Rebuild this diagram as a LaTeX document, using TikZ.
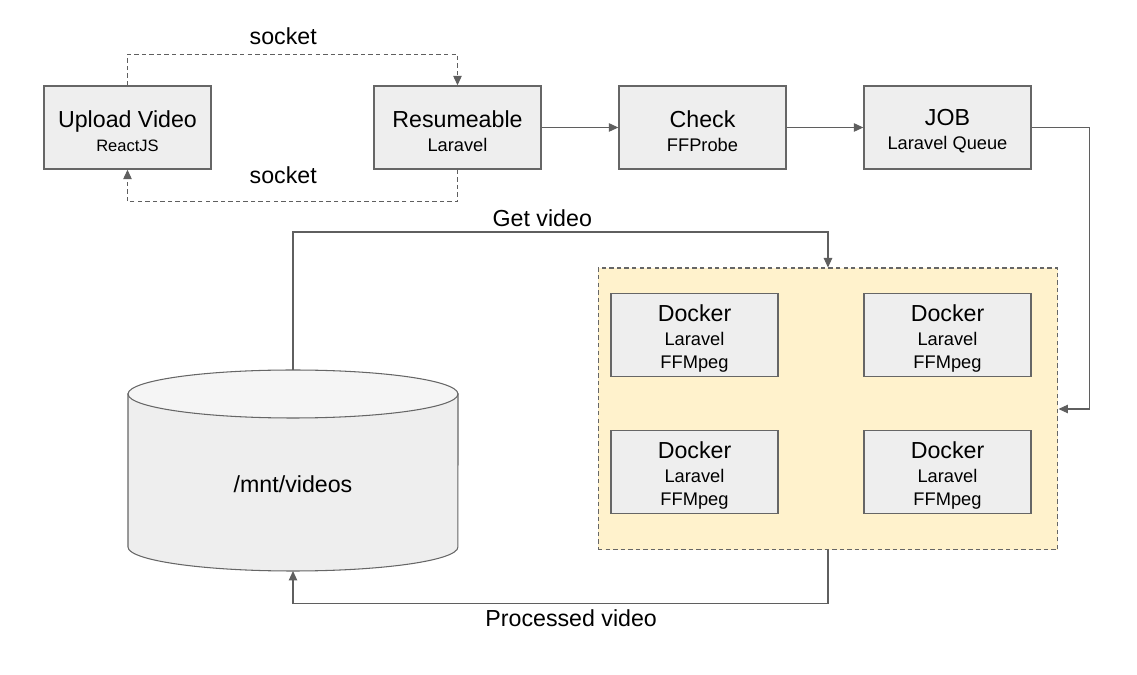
\documentclass[tikz,border=0pt]{standalone}
\usepackage{fontspec}
\setmainfont{Liberation Sans}
\usetikzlibrary{arrows.meta,calc}
\definecolor{boxfill}{HTML}{EEEEEE}
\definecolor{boxline}{HTML}{666666}
\definecolor{wire}{HTML}{5F5F5F}
\definecolor{farmfill}{HTML}{FFF2CC}
\newcommand{\mainsz}{\fontsize{13.2}{16}\selectfont}
\newcommand{\subsz}{\fontsize{10.4}{13.6}\selectfont}
\newcommand{\head}[1]{{\mainsz\rule{0pt}{13.6pt}#1}}
\tikzset{
  stage/.style={draw=boxline,fill=boxfill,line width=0.8pt,minimum width=3.34cm,
    minimum height=1.66cm,inner sep=0pt,align=center,font=\subsz},   % service box
  farm/.style={draw=boxline,fill=farmfill,dash pattern=on 2.5pt off 1.8pt,line width=0.6pt,
    minimum width=9.2cm,minimum height=5.64cm,inner sep=0pt},        % docker group
  flow/.style={-{Triangle[length=1.9mm,width=1.7mm]},wire,line width=0.6pt},
  sock/.style={flow,dash pattern=on 2.5pt off 1.8pt},
  lbl/.style={font=\mainsz,inner sep=0pt,text=black},
}
\newcommand{\docker}[2]{%
  \node[stage] (#1) at (#2) {\head{Docker}\\Laravel\\FFMpeg};
}

\begin{document}
\begin{tikzpicture}[x=0.02cm,y=-0.02cm]
  \useasboundingbox (0,0) rectangle (1137,675);
  % top row
  \node[stage] (upload) at (127.5,127.5) {\head{Upload Video}\\{\fontsize{9.4}{13.6}\selectfont ReactJS}};
  \node[stage] (resume) at (457.5,127.5) {\head{Resumeable}\\Laravel};
  \node[stage] (check) at (702.5,127.5) {\head{Check}\\FFProbe};
  \node[stage] (job) at (947.5,127.5) {\head{JOB}\\Laravel Queue};
  % workers
  \node[farm] (farm) at (828,409) {};
  \docker{dockA}{694.5,335}
  \docker{dockB}{947.5,335}
  \docker{dockC}{694.5,472}
  \docker{dockD}{947.5,472}
  % storage
  \draw[boxline,fill=boxfill,line width=0.6pt] (128,394) -- (128,547)
    arc[start angle=180,end angle=360,x radius=3.3cm,y radius=0.48cm] -- (458,394) -- cycle;
  \draw[boxline,fill=boxfill!60!white,line width=0.6pt] (293,394) ellipse[x radius=3.3cm,y radius=0.48cm];
  \node[lbl] (db) at (293,484) {/mnt/videos};
  \coordinate (dbtop) at (293,370);
  \coordinate (dbbot) at (293,571);
  % connectors
  \draw[sock] (upload.north) -- ++(0,-31) -| node[lbl,pos=0.236,above=5pt] (sockup) {socket} (resume.north);
  \draw[sock] (resume.south) -- ++(0,32) -| node[lbl,pos=0.264,above=10pt] (sockdn) {socket} (upload.south);
  \draw[flow] (resume) -- (check);
  \draw[flow] (check) -- (job);
  \draw[flow] (job.east) -- ++(58,0) |- (farm.east);
  \draw[flow] (dbtop) -- ++(0,-138) -| node[lbl,pos=0.233,above=2.8pt] (getv) {Get video} (farm.north);
  \draw[flow] (farm.south) -- ++(0,53) -| node[lbl,pos=0.24,below=3.2pt] (putv) {Processed video} (dbbot);
\end{tikzpicture}
\end{document}
